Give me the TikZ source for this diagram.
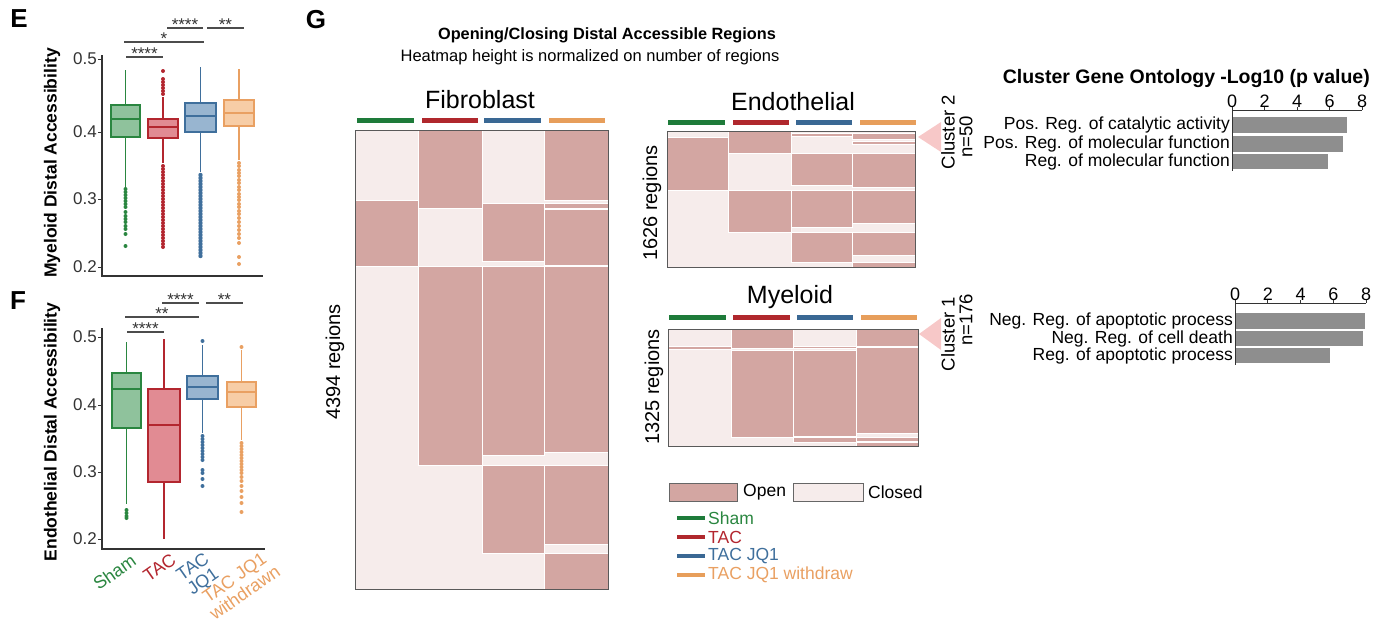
\documentclass[tikz,border=0pt]{standalone}
\usepackage{fontspec}
\setmainfont{Liberation Sans}
\definecolor{shamC}{HTML}{2A8640}
\definecolor{shamF}{HTML}{8FC29C}
\definecolor{tacC}{HTML}{B3262F}
\definecolor{tacF}{HTML}{E18B93}
\definecolor{jqC}{HTML}{3F6F9C}
\definecolor{jqF}{HTML}{98B5D0}
\definecolor{wdC}{HTML}{E9A062}
\definecolor{wdF}{HTML}{F7CDA6}
\definecolor{shamL}{HTML}{1E7B3A}
\definecolor{tacL}{HTML}{B0282D}
\definecolor{jqL}{HTML}{3A6894}
\definecolor{wdL}{HTML}{E79E5B}
\definecolor{openC}{HTML}{D3A6A2}
\definecolor{closeC}{HTML}{F6ECEB}
\definecolor{barG}{HTML}{8E8E8E}
\definecolor{triC}{HTML}{F7C8C8}
\definecolor{axisC}{HTML}{333333}
\newcommand\bxp[8]{%
  \draw[#8C, line width=1.1pt] ({(#1+#2)/2},#3) -- ({(#1+#2)/2},#7);
  \draw[#8C, line width=1.2pt, fill=#8F] (#1,#4) rectangle (#2,#6);
  \draw[#8C, line width=1.2pt] (#1,#5) -- (#2,#5);
}
\newcommand\sigbar[4]{%
  \draw[sigline] (#1,#3) -- (#2,#3);
  \node[sigtxt, anchor=base] at ({(#1+#2)/2},#3+2.5) {#4};
}
\tikzset{
  panel/.style={font=\fontsize{26}{28}\selectfont\bfseries, inner sep=0},
  ticklbl/.style={font=\fontsize{17}{20}\selectfont, inner sep=0, text=axisC},
  ylbl/.style={font=\fontsize{17.5}{20}\selectfont\bfseries, inner sep=0, rotate=90},
  sigline/.style={draw=black!70, line width=1.3pt},
  sigtxt/.style={font=\fontsize{17}{19}\selectfont, inner sep=0, text=black!80},
  xlbl/.style={font=\fontsize{18}{18}\selectfont, inner sep=0, rotate=35, align=center, anchor=north east},
  hmtitle/.style={font=\fontsize{25}{28}\selectfont, inner sep=0},
  reglbl/.style={font=\fontsize{20}{22}\selectfont, inner sep=0, rotate=90},
  openbox/.style={fill=openC, draw=white, line width=0.5pt},
  frame/.style={draw=black!65, line width=1pt},
  grpbar/.style={line width=5pt},
  golbl/.style={font=\fontsize{17.5}{20}\selectfont, inner sep=0, anchor=east},
  gohead/.style={font=\fontsize{19.5}{22}\selectfont\bfseries, inner sep=0},
  clbl/.style={font=\fontsize{18.5}{22}\selectfont, inner sep=0, rotate=90},
  legtxt/.style={font=\fontsize{17.5}{20}\selectfont, inner sep=0, anchor=west},
}
\begin{document}
\begin{tikzpicture}[x=1pt,y=-1pt]
\path[use as bounding box] (0,0) rectangle (1384,622);

% ================= Panel E =================
\node[panel] (lblE) at (19,19) {E};
\draw[axisC, line width=1.2pt] (102,55) -- (102,276) -- (263,276);
\foreach \v/\yy in {0.5/59,0.4/132,0.3/199,0.2/267}{
  \draw[axisC, line width=1pt] (98,\yy) -- (102,\yy);
  \node[ticklbl, anchor=east] at (97,\yy) {\v};
}
\node[ylbl] (yE) at (52,163) {Myeloid Distal Accessibility};
% boxes
\bxp{111}{140}{70}{105}{119}{137}{187}{sham}
\foreach \yy in {189,192,195,198,201,204,207,212,216,219,222,226,229,234,246}
  \fill[shamC] (125.5,\yy) circle (2);
\bxp{148}{178}{97}{119}{127}{138}{163}{tac}
\foreach \yy in {71,79,82,85,88,91,94,166,169,...,247}
  \fill[tacC] (163,\yy) circle (2);
\bxp{185}{216}{67}{103}{116}{132}{172}{jq}
\foreach \yy in {175,178,...,257}
  \fill[jqC] (200.5,\yy) circle (2.2);
\bxp{224}{254}{69}{100}{113}{126}{160}{wd}
\foreach \yy in {163,166,170,173,176,180,183,187,190,194,197,200,204,207,211,214,218,222,226,230,234,238,243,257,264}
  \fill[wdC] (239,\yy) circle (2);
% significance
\sigbar{126}{163}{57}{****}
\sigbar{124}{204}{42}{*}
\sigbar{167}{203}{28}{****}
\sigbar{207}{244}{28}{**}

% ================= Panel F =================
\node[panel] (lblF) at (18,301) {F};
\draw[axisC, line width=1.2pt] (102,328) -- (102,549) -- (265,549);
\foreach \v/\yy in {0.5/337,0.4/405,0.3/472,0.2/539}{
  \draw[axisC, line width=1pt] (98,\yy) -- (102,\yy);
  \node[ticklbl, anchor=east] at (97,\yy) {\v};
}
\node[ylbl] (yF) at (52,432) {Endothelial Distal Accessibility};
\bxp{112}{141}{342}{373}{389}{428}{504}{sham}
\foreach \yy in {510,513,516,518}
  \fill[shamC] (126.5,\yy) circle (2);
\bxp{148}{180}{339}{389}{425}{482}{539}{tac}
\bxp{187}{218}{345}{376}{387}{399}{433}{jq}
\foreach \yy in {341,436,439,...,460,470,473,479,486}
  \fill[jqC] (202.5,\yy) circle (2);
\bxp{227}{256}{350}{382}{392}{407}{440}{wd}
\foreach \yy in {347,443,446,...,473,477,481,486,491,497,503,512}
  \fill[wdC] (241.5,\yy) circle (2);
\sigbar{127}{164}{332}{****}
\sigbar{125}{199}{317}{**}
\sigbar{162}{199}{303}{****}
\sigbar{206}{243}{303}{**}
% x labels
\node[xlbl, text=shamC] (xS) at (130,553) {Sham};
\node[xlbl, text=tacC] (xT) at (170,552) {TAC};
\node[xlbl, text=jqC] (xJ) at (203,551) {TAC\\JQ1};
\node[xlbl, text=wdC] (xW) at (264,549) {TAC JQ1\\withdrawn};

% ================= Panel G =================
\node[panel] (lblG) at (316,20) {G};
\node[font=\fontsize{16.3}{20}\selectfont\bfseries, inner sep=0] (title) at (607,35) {Opening/Closing Distal Accessible Regions};
\node[font=\fontsize{16.5}{20}\selectfont, inner sep=0] (subtitle) at (590,57) {Heatmap height is normalized on number of regions};

% --- Fibroblast ---
\node[hmtitle] (tFib) at (480,100) {Fibroblast};
\draw[grpbar, shamL] (357,120) -- (414,120);
\draw[grpbar, tacL] (422,120) -- (478,120);
\draw[grpbar, jqL] (484,120) -- (541,120);
\draw[grpbar, wdL] (549,120) -- (605,120);
\fill[closeC] (355,130) rectangle (608,589);
\foreach \a/\b/\c/\d in {355/418/200/266,
  418/482/130/208, 418/482/266/465,
  482/544/203/261, 482/544/266/455, 482/544/465/553,
  544/608/130/200, 544/608/203/208, 544/608/209/265, 544/608/266/452, 544/608/465/544, 544/608/553/589}
  \draw[openbox] (\a,\c) rectangle (\b,\d);
\draw[frame] (355,130) rectangle (608,589);
\node[reglbl] (rFib) at (335,362) {4394 regions};

% --- Endothelial ---
\node[hmtitle] (tEndo) at (793,102) {Endothelial};
\draw[grpbar, shamL] (668,122) -- (725,122);
\draw[grpbar, tacL] (733,122) -- (789,122);
\draw[grpbar, jqL] (796,122) -- (852,122);
\draw[grpbar, wdL] (860,122) -- (916,122);
\fill[closeC] (667,131) rectangle (915,267);
\foreach \a/\b/\c/\d in {667/728/137/190,
  728/791/131/153, 728/791/190/232,
  791/852/133/136, 791/852/153/185, 791/852/190/227, 791/852/232/262,
  852/915/133/139, 852/915/141/144, 852/915/153/187, 852/915/190/223, 852/915/232/255, 852/915/262/267}
  \draw[openbox] (\a,\c) rectangle (\b,\d);
\draw[frame] (667,131) rectangle (915,267);
\node[reglbl] (rEndo) at (652,203) {1626 regions};

% --- Myeloid ---
\node[hmtitle] (tMye) at (790,297) {Myeloid};
\draw[grpbar, shamL] (669,317) -- (726,317);
\draw[grpbar, tacL] (733,317) -- (790,317);
\draw[grpbar, jqL] (797,317) -- (853,317);
\draw[grpbar, wdL] (861,317) -- (917,317);
\fill[closeC] (668,329) rectangle (918,446);
\foreach \a/\b/\c/\d in {668/731/346/349,
  731/793/329/348, 731/793/350/437,
  793/856/346/348, 793/856/350/436, 793/856/437/442,
  856/918/329/346, 856/918/347/433, 856/918/437/441, 856/918/442/446}
  \draw[openbox] (\a,\c) rectangle (\b,\d);
\draw[frame] (668,329) rectangle (918,446);
\node[reglbl] (rMye) at (654,387) {1325 regions};

% --- cluster markers ---
\fill[triC] (918,137) -- (941,122) -- (941,152) -- cycle;
\fill[triC] (919,334) -- (941,318) -- (941,350) -- cycle;
\node[clbl] (c2) at (948,132) {Cluster 2};
\node[clbl] (n2) at (966,137) {n=50};
\node[clbl] (c1) at (948,334) {Cluster 1};
\node[clbl] (n1) at (966,320) {n=176};

% --- GO chart 1 ---
\node[gohead] (goh) at (1109,78) {Cluster Gene Ontology};
\node[gohead] (gop) at (1295,78) {-Log10 (p value)};
\foreach \v in {0,2,4,6,8}{
  \node[font=\fontsize{18}{20}\selectfont, inner sep=0] at ({1232+\v*16.25},101) {\v};
  \draw[axisC, line width=0.8pt] ({1232+\v*16.25},107) -- ({1232+\v*16.25},110);
}
\draw[axisC, line width=1pt] (1232,110) -- (1362,110);
\fill[barG] (1232,117) rectangle (1347,133);
\fill[barG] (1232,136) rectangle (1343,152);
\fill[barG] (1232,154) rectangle (1328,169);
\draw[axisC, line width=1pt] (1232,110) -- (1232,171);
\node[golbl] (g11) at (1230,125) {Pos. Reg. of catalytic activity};
\node[golbl] (g12) at (1230,144) {Pos. Reg. of molecular function};
\node[golbl] (g13) at (1230,161.5) {Reg. of molecular function};

% --- GO chart 2 ---
\foreach \v in {0,2,4,6,8}{
  \node[font=\fontsize{18}{20}\selectfont, inner sep=0] at ({1235+\v*16.4},294) {\v};
  \draw[axisC, line width=0.8pt] ({1235+\v*16.4},300) -- ({1235+\v*16.4},303);
}
\draw[axisC, line width=1pt] (1235,303) -- (1366,303);
\fill[barG] (1235,313) rectangle (1365,329);
\fill[barG] (1235,331) rectangle (1363,346);
\fill[barG] (1235,348) rectangle (1330,363);
\draw[axisC, line width=1pt] (1235,303) -- (1235,365);
\node[golbl] (g21) at (1233,321) {Neg. Reg. of apoptotic process};
\node[golbl] (g22) at (1233,338.5) {Neg. Reg. of cell death};
\node[golbl] (g23) at (1233,355.5) {Reg. of apoptotic process};

% --- Legend ---
\draw[fill=openC, draw=black!60, line width=1pt] (669,483) rectangle (737,501);
\node[legtxt] (lo) at (743,492) {Open};
\draw[fill=closeC, draw=black!60, line width=1pt] (793,483) rectangle (863,501);
\node[legtxt] (lc) at (868,492) {Closed};
\draw[grpbar, line width=4pt, shamL] (677,518) -- (705,518);
\node[legtxt, text=shamC] (ls) at (708,518) {Sham};
\draw[grpbar, line width=4pt, tacL] (677,537) -- (705,537);
\node[legtxt, text=tacC] (lt) at (708,537) {TAC};
\draw[grpbar, line width=4pt, jqL] (677,556) -- (705,556);
\node[legtxt, text=jqC] (lj) at (708,556) {TAC JQ1};
\draw[grpbar, line width=4pt, wdL] (677,575) -- (705,575);
\node[legtxt, text=wdC] (lw) at (708,575) {TAC JQ1 withdraw};
\end{tikzpicture}
\end{document}
